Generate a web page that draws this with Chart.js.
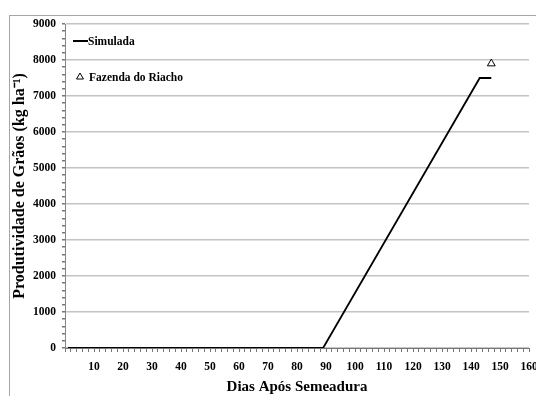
<!DOCTYPE html>
<html>
<head>
<meta charset="utf-8">
<script src="https://cdn.jsdelivr.net/npm/chart.js@4.4.1/dist/chart.umd.min.js"></script>
<style>
  html, body { margin: 0; padding: 0; background: #fff; overflow: hidden; }
  #frame { position: absolute; left: 9px; top: 15px; width: 600px; height: 500px; border: 1px solid #a6a6a6; }
  #wrap { position: absolute; left: 0; top: 0; width: 536px; height: 396px; }
</style>
</head>
<body>
<div id="frame"></div>
<div id="wrap"><canvas id="chart" width="536" height="396"></canvas></div>
<script>
// Simulated yield (kg/ha) by day after sowing
const simDays = [1, 89, 143, 147];
const simYield = [0, 0, 7500, 7500];

// Observed yield, Fazenda do Riacho
const obsDays = [147];
const obsYield = [7900];

// Axis labels
const xTitle = 'Dias Após Semeadura';
const yTitle = 'Produtividade de Grãos (kg ha⁻¹)';

const serif = "'Liberation Serif', 'Times New Roman', serif";

// Legend drawn inside the plot, top-left, one entry per line
const innerLegend = {
    id: 'innerLegend',
    afterDraw(chart) {
        const ctx = chart.ctx;
        const left = chart.chartArea.left;
        const top = chart.chartArea.top;
        ctx.save();
        ctx.font = 'bold 11.5px ' + serif;
        ctx.textBaseline = 'middle';

        // Simulada
        const y1 = top + 17;
        ctx.strokeStyle = '#000';
        ctx.lineWidth = 2;
        ctx.beginPath();
        ctx.moveTo(left + 8, y1);
        ctx.lineTo(left + 23, y1);
        ctx.stroke();
        ctx.fillStyle = '#000';
        ctx.fillText(chart.data.datasets[0].label, left + 23, y1 + 1);

        // Fazenda do Riacho
        const y2 = top + 53;
        ctx.fillStyle = '#fff';
        ctx.strokeStyle = '#000';
        ctx.lineWidth = 1;
        Chart.helpers.drawPoint(ctx, {
            pointStyle: 'triangle', radius: 4, borderWidth: 1, rotation: 0
        }, left + 15, y2);
        ctx.fillStyle = '#000';
        ctx.fillText(chart.data.datasets[1].label, left + 24, y2 + 1);
        ctx.restore();
    }
};

const chart = new Chart(document.getElementById('chart'), {
    type: 'line',
    data: {
        datasets: [{
            label: 'Simulada',
            data: simDays.map((d, i) => ({ x: d, y: simYield[i] })),
            borderColor: '#000',
            borderWidth: 1.8,
            pointRadius: 0,
            tension: 0
        }, {
            label: 'Fazenda do Riacho',
            data: obsDays.map((d, i) => ({ x: d, y: obsYield[i] })),
            showLine: false,
            pointStyle: 'triangle',
            pointRadius: 4.5,
            backgroundColor: '#fff',
            borderColor: '#000',
            borderWidth: 1
        }]
    },
    options: {
        responsive: false,
        animation: false,
        layout: { padding: { top: 24, right: 7, left: 0, bottom: 0 } },
        plugins: { legend: { display: false }, tooltip: { enabled: false } },
        scales: {
            x: {
                type: 'linear',
                min: 0,
                max: 160,
                ticks: {
                    stepSize: 2,
                    autoSkip: false,
                    maxRotation: 0,
                    padding: 8,
                    color: '#000',
                    font: { family: serif, size: 11.5, weight: 'bold' },
                    callback: v => (v % 10 === 0 && v !== 0) ? v : ''
                },
                grid: { drawOnChartArea: false, tickLength: 4, tickColor: '#777' },
                border: { color: '#777' },
                title: {
                    display: true,
                    text: xTitle,
                    color: '#000',
                    padding: 0,
                    font: { family: serif, size: 15, weight: 'bold' }
                },
                afterFit: s => { s.height = 48; s.paddingLeft = 0; s.paddingRight = 0; }
            },
            y: {
                min: 0,
                max: 9000,
                ticks: {
                    stepSize: 200,
                    autoSkip: false,
                    padding: 6,
                    color: '#000',
                    font: { family: serif, size: 11.5, weight: 'bold' },
                    callback: v => v % 1000 === 0 ? v : ''
                },
                grid: {
                    color: c => c.tick && c.tick.value % 1000 === 0 ? '#c4c4c4' : 'rgba(0,0,0,0)',
                    lineWidth: 1.5,
                    tickColor: '#777',
                    tickLength: 3
                },
                border: { color: '#888' },
                title: {
                    display: true,
                    text: yTitle,
                    color: '#000',
                    padding: { top: 10, bottom: 0 },
                    font: { family: serif, size: 16, weight: 'bold' }
                },
                afterFit: s => { s.width = 65; }
            }
        }
    },
    plugins: [innerLegend]
});
</script>
</body>
</html>
